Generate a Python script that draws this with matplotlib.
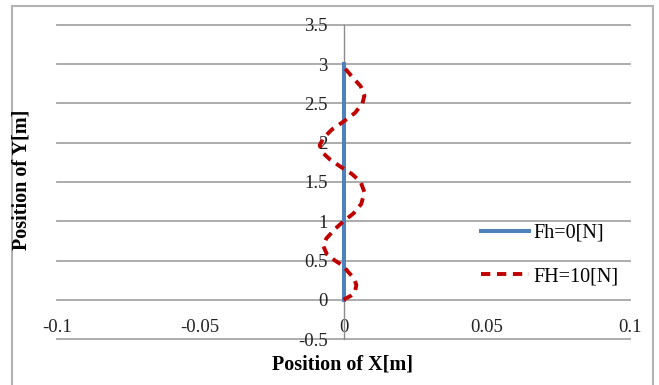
import matplotlib
matplotlib.use('Agg')
import matplotlib.pyplot as plt
from matplotlib.patches import Rectangle

# straight pile, no horizontal force
y_fh0 = [0.0, 3.0]
x_fh0 = [0.0, 0.0]

# deflected shape, FH = 10 N
y_fh10 = [0.00, 0.05, 0.10, 0.19, 0.28, 0.36, 0.43, 0.50, 0.58, 0.68, 0.78, 0.90,
          1.00, 1.10, 1.22, 1.37, 1.50, 1.60, 1.67, 1.78, 1.88, 1.97, 2.06, 2.17,
          2.27, 2.38, 2.50, 2.60, 2.72, 2.84, 2.97]
x_fh10 = [0.0000, 0.0025, 0.0040, 0.0045, 0.0035, 0.0015, 0.0000, -0.0030, -0.0058,
          -0.0070, -0.0060, -0.0030, 0.0000, 0.0035, 0.0062, 0.0073, 0.0060, 0.0030,
          0.0000, -0.0045, -0.0075, -0.0083, -0.0070, -0.0040, 0.0000, 0.0040,
          0.0066, 0.0073, 0.0060, 0.0030, 0.0000]

xticks = [-0.1, -0.05, 0, 0.05, 0.1]
xlabels = ['-0.1', '-0.05', '0', '0.05', '0.1']
yticks = [-0.5, 0, 0.5, 1, 1.5, 2, 2.5, 3, 3.5]
ylabels = ['-0.5', '0', '0.5', '1', '1.5', '2', '2.5', '3', '3.5']

plt.rcParams['font.family'] = ['Liberation Serif', 'DejaVu Serif']

fig = plt.figure(figsize=(6.59, 3.85), dpi=100)
ax = fig.add_axes([57/659, 1 - 339/385, (630 - 57)/659, (339 - 25)/385])

ax.plot(x_fh0, y_fh0, color='#4f81bd', lw=2.9, label='Fh=0[N]', zorder=3)
ax.plot(x_fh10, y_fh10, color='#c00000', lw=2.8, ls=(0, (2.4, 1.7)),
        label='FH=10[N]', zorder=4)

ax.set_xlim(-0.1, 0.1)
ax.set_ylim(-0.5, 3.5)
ax.set_xticks(xticks)
ax.set_xticklabels(xlabels)
ax.set_yticks(yticks)
ax.set_yticklabels(ylabels)

for s in ['top', 'right', 'bottom']:
    ax.spines[s].set_visible(False)
ax.spines['left'].set_position(('data', 0))
ax.spines['left'].set_color('#8c8c8c')
ax.spines['left'].set_linewidth(1.0)

ax.tick_params(axis='x', length=0, pad=-14.5, labelsize=13.5, colors='#222222')
ax.tick_params(axis='y', length=0, pad=11.5, labelsize=13.5, colors='#222222')

ax.grid(axis='y', color='#a6a6a6', lw=1.3)
ax.grid(axis='x', visible=False)
for gl in ax.get_ygridlines():
    gl.set_clip_on(False)
ax.set_axisbelow(True)

fig.text(22/659, 1 - 180/385, 'Position of Y[m]', rotation=90, fontsize=14.5,
         fontweight='bold', ha='center', va='center')
fig.text(342/659, 1 - 364/385, 'Position of X[m]', fontsize=14.5,
         fontweight='bold', ha='center', va='center')

ax.legend(loc='center left', bbox_to_anchor=(481/659, 1 - 255/385),
          bbox_transform=fig.transFigure, frameon=False, fontsize=14.5,
          handlelength=2.4, handletextpad=0.2, labelspacing=1.2,
          borderpad=0, borderaxespad=0)

fig.add_artist(Rectangle((12/659, -0.1), (653 - 12)/659, 1.1 - 6/385,
                         transform=fig.transFigure, fill=False,
                         edgecolor='#b3b3b3', lw=1.5))

fig.savefig('out.png', dpi=100)
